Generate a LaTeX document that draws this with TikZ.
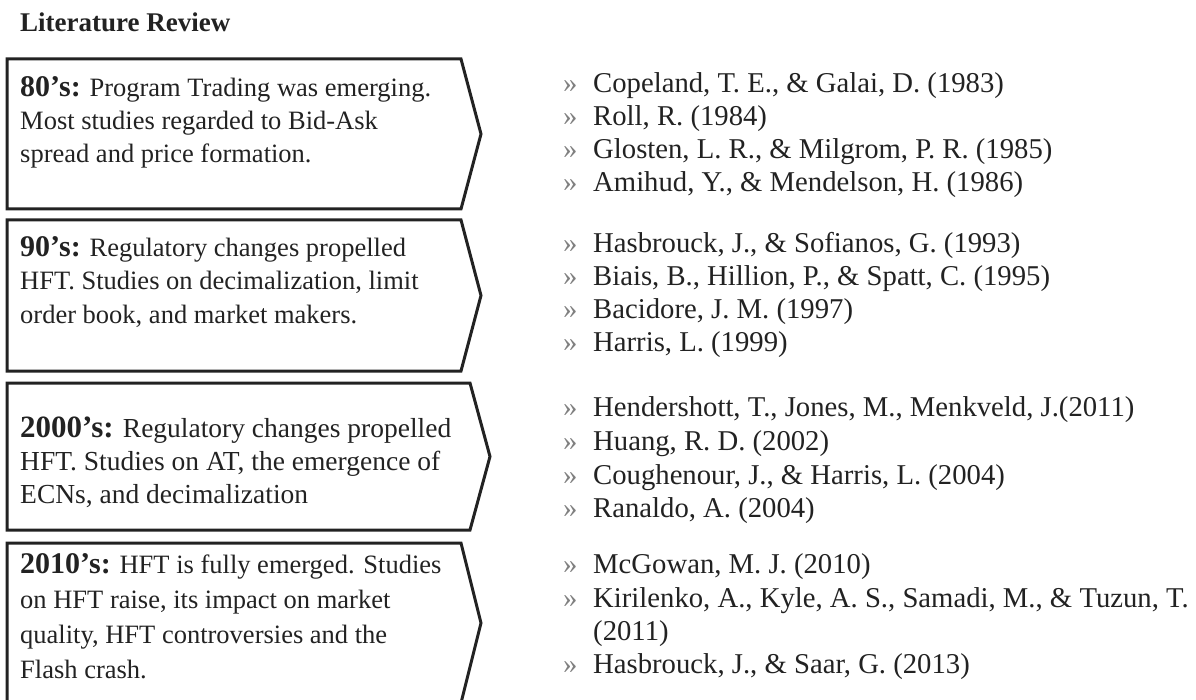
\documentclass[tikz,border=0pt]{standalone}
\usepackage{fontspec}
\setmainfont{Liberation Serif}
\definecolor{ink}{HTML}{222222}
\definecolor{bulgrey}{HTML}{808080}
\begin{document}
\begin{tikzpicture}[x=1pt,y=-1pt,
  chev/.style={draw=ink, line width=3pt, line join=miter},
  ttl/.style={anchor=base west, inner sep=0pt, text=ink, font=\fontsize{27}{30}\selectfont\bfseries},
  boxtxt/.style={anchor=base west, inner sep=0pt, text=ink, font=\fontsize{26.5}{30}\selectfont},
  bigtxt/.style={boxtxt, font=\fontsize{27.5}{30}\selectfont},
  reftxt/.style={anchor=base west, inner sep=0pt, text=ink, font=\fontsize{28.7}{32}\selectfont},
  bul/.style={anchor=base west, inner sep=0pt, text=bulgrey, font=\fontsize{28.7}{32}\selectfont}]
\newcommand{\lab}[1]{{\fontsize{30}{30}\selectfont\bfseries #1}}
\useasboundingbox (0,0) rectangle (1196,700);
\clip (0,0) rectangle (1196,700);

% heading
\node[ttl] (title) at (20,32) {Literature Review};

% chevron outlines
\draw[chev] (7,59) -- (461,59) -- (481,134) -- (461,209) -- (7,209) -- cycle;
\draw[chev] (7,220) -- (461,220) -- (481,295.5) -- (461,371) -- (7,371) -- cycle;
\draw[chev] (7,383) -- (470,383) -- (490,456.5) -- (470,530) -- (7,530) -- cycle;
\draw[chev] (7,543) -- (461,543) -- (481,623) -- (461,703) -- (7,703) -- cycle;

% decade descriptions
\node[boxtxt] (a1) at (20,97)  {\lab{80’s:} Program Trading was emerging.};
\node[boxtxt] (a2) at (20,130) {Most studies regarded to Bid-Ask};
\node[boxtxt] (a3) at (20,163) {spread and price formation.};

\node[boxtxt] (b1) at (20,257) {\lab{90’s:} Regulatory changes propelled};
\node[boxtxt] (b2) at (20,290) {HFT. Studies on decimalization, limit};
\node[boxtxt] (b3) at (20,324) {order book, and market makers.};

\node[bigtxt] (c1) at (20,437) {{\fontsize{31}{30}\selectfont\bfseries 2000’s:} Regulatory changes propelled};
\node[bigtxt] (c2) at (20,470) {HFT. Studies on AT, the emergence of};
\node[bigtxt] (c3) at (20,503) {ECNs, and decimalization};

\node[boxtxt] (d1) at (20,573) {\lab{2010’s:} HFT is fully emerged. Studies};
\node[boxtxt] (d2) at (20,608) {on HFT raise, its impact on market};
\node[boxtxt] (d3) at (20,643) {quality, HFT controversies and the};
\node[boxtxt] (d4) at (20,678) {Flash crash.};

% references
\foreach \y/\t [count=\i] in {
  93/{Copeland, T. E., \& Galai, D. (1983)},
  126/{Roll, R. (1984)},
  159/{Glosten, L. R., \& Milgrom, P. R. (1985)},
  192/{Amihud, Y., \& Mendelson, H. (1986)},
  253/{Hasbrouck, J., \& Sofianos, G. (1993)},
  286/{Biais, B., Hillion, P., \& Spatt, C. (1995)},
  319/{Bacidore, J. M. (1997)},
  352/{Harris, L. (1999)},
  416/{Hendershott, T., Jones, M., Menkveld, J.(2011)},
  450/{Huang, R. D. (2002)},
  484/{Coughenour, J., \& Harris, L. (2004)},
  517/{Ranaldo, A. (2004)},
  573/{McGowan, M. J. (2010)},
  607/{Kirilenko, A., Kyle, A. S., Samadi, M., \& Tuzun, T.},
  673/{Hasbrouck, J., \& Saar, G. (2013)}}{
  \node[bul] (m\i) at (563,\y) {»};
  \node[reftxt] (r\i) at (593,\y) {\t};
}
\node[reftxt] (r14b) at (593,640) {(2011)};
\end{tikzpicture}
\end{document}
